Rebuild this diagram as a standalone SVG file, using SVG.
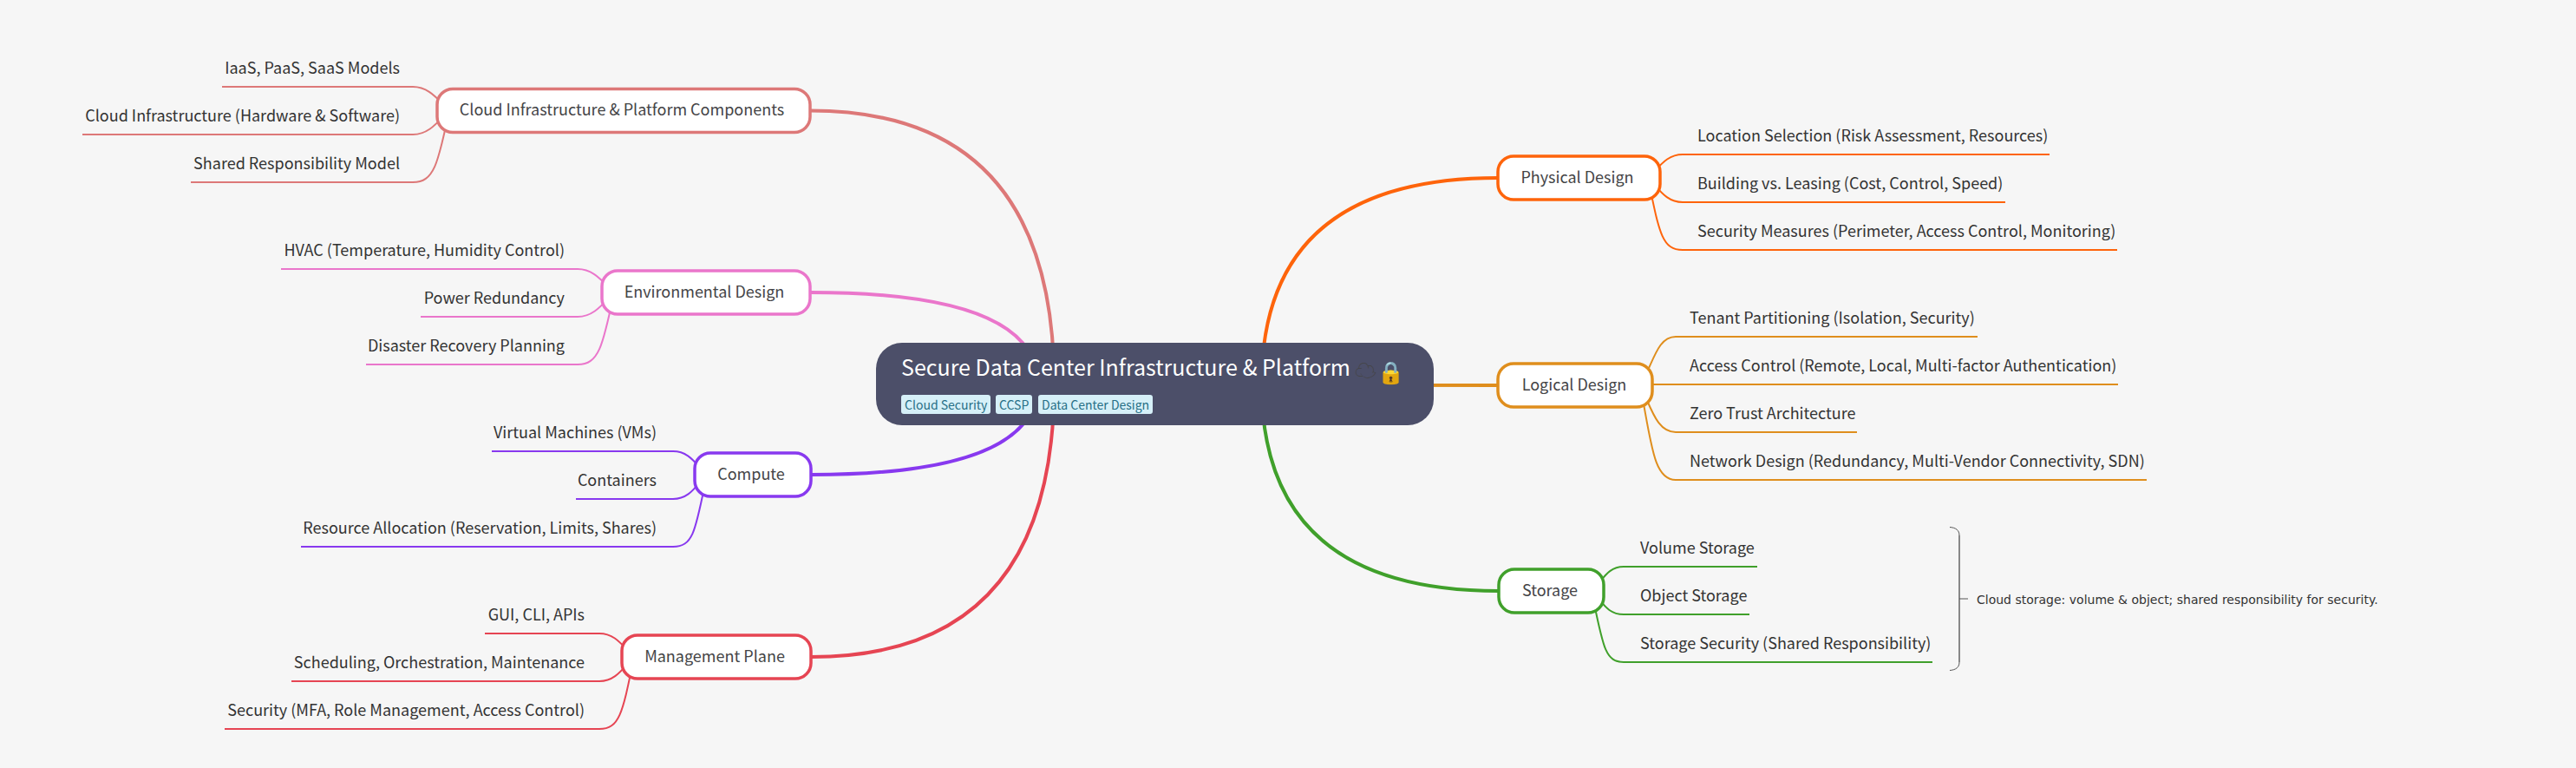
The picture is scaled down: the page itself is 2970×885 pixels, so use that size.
<svg xmlns="http://www.w3.org/2000/svg" width="2970" height="885" viewBox="0 0 2970 885">
<style>
text{font-family:"Noto Sans CJK SC","Noto Sans",sans-serif;fill:#333;font-size:18px}
.e{text-anchor:end}.m{text-anchor:middle;fill:#444446}
.n{fill:#fff;stroke-width:3.500}
.l{fill:none;stroke-width:2}.b{fill:none;stroke-width:4}
.c1{stroke:#dd7878}.c2{stroke:#ea76cb}.c3{stroke:#8839ef}.c4{stroke:#e64553}.c5{stroke:#fe640b}.c6{stroke:#df8e1d}.c7{stroke:#40a02b}
.tg{fill:#d6f0f8}.tt{fill:#276f86;font-size:14px}
</style>
<rect width="2970" height="885" fill="#f6f6f6"/>
<g id="connectors">
<path class="b c1" d="M1215.4 442.5Q1215.4 127.5 934 127.5"/>
<path class="b c2" d="M1196.4 442.5Q1196.4 337 934 337"/>
<path class="b c3" d="M1196.4 442.5Q1196.4 547 935 547"/>
<path class="b c4" d="M1215.4 442.5Q1215.4 757 935 757"/>
<path class="b c5" d="M1454.6 442.5Q1454.6 205 1727 205"/>
<path class="b c6" d="M1476 442.5Q1476 444 1727 444"/>
<path class="b c7" d="M1454.6 442.5Q1454.6 681 1728 681"/>
<path class="l c1" d="M518 127C505 115 495 100 476 100H256"/>
<path class="l c1" d="M518 127C505 140 495 155 476 155H95"/>
<path class="l c1" d="M518 127C505 190 500 210 476 210H220"/>
<path class="l c2" d="M708 337C695 325 685 310 666 310H324"/>
<path class="l c2" d="M708 337C695 350 685 365 666 365H485"/>
<path class="l c2" d="M708 337C695 400 690 420 666 420H422"/>
<path class="l c3" d="M815 547C802 535 795 520 776 520H567"/>
<path class="l c3" d="M815 547C802 560 795 575 776 575H664"/>
<path class="l c3" d="M815 547C802 610 800 630 776 630H347"/>
<path class="l c4" d="M731 757C718 745 710 730 691 730H559"/>
<path class="l c4" d="M731 757C718 770 710 785 691 785H336"/>
<path class="l c4" d="M731 757C718 820 715 840 691 840H259"/>
<path class="l c5" d="M1900 205C1913 193 1921 178 1940 178H2363"/>
<path class="l c5" d="M1900 205C1913 218 1921 233 1940 233H2312"/>
<path class="l c5" d="M1900 205C1913 268 1916 288 1940 288H2441"/>
<path class="l c6" d="M1891 444C1906 420 1910 388 1932 388H2280"/>
<path class="l c6" d="M1891 443H2442"/>
<path class="l c6" d="M1891 444C1904 470 1910 498 1932 498H2141"/>
<path class="l c6" d="M1891 444C1904 510 1906 553 1932 553H2475"/>
<path class="l c7" d="M1835 681C1848 669 1853 653 1872 653H2026"/>
<path class="l c7" d="M1835 681C1848 694 1853 708 1872 708H2017"/>
<path class="l c7" d="M1835 681C1848 744 1850 763 1872 763H2228"/>
<path fill="none" stroke="#888" stroke-width="2" d="M2259 617V763"/>
<path fill="none" stroke="#555" stroke-width="1" d="M2248 607.500C2255 608 2259 611 2259 617M2259 763C2259 769 2255 772 2248 772.500M2259 690H2269"/>
</g>
<g id="root"><rect x="1010" y="395" width="643" height="95" rx="30" fill="#4c4f69"/>
<text x="1039" y="433" style="fill:#fff;font-size:25px">Secure Data Center Infrastructure &amp; Platform</text>
<text x="1562" y="436" style="fill:#444446;font-size:25px">☁</text>
<text x="1588" y="438" style="font-size:25px">🔒</text>
<rect class="tg" x="1039" y="455" width="103" height="22" rx="3"/><text class="tt" x="1043" y="472">Cloud Security</text>
<rect class="tg" x="1148" y="455" width="42" height="22" rx="3"/><text class="tt" x="1152" y="472">CCSP</text>
<rect class="tg" x="1197" y="455" width="132" height="22" rx="3"/><text class="tt" x="1201" y="472">Data Center Design</text>
</g>
<g id="n1"><rect class="n c1" x="504" y="102.500" width="430" height="50" rx="18"/><text class="m" x="717" y="133">Cloud Infrastructure &amp; Platform Components</text></g>
<g id="n1a"><text class="e" x="461" y="85">IaaS, PaaS, SaaS Models</text></g>
<g id="n1b"><text class="e" x="461" y="140">Cloud Infrastructure (Hardware &amp; Software)</text></g>
<g id="n1c"><text class="e" x="461" y="195">Shared Responsibility Model</text></g>
<g id="n2"><rect class="n c2" x="694" y="312" width="240" height="50" rx="18"/><text class="m" x="812" y="343">Environmental Design</text></g>
<g id="n2a"><text class="e" x="651" y="295">HVAC (Temperature, Humidity Control)</text></g>
<g id="n2b"><text class="e" x="651" y="350">Power Redundancy</text></g>
<g id="n2c"><text class="e" x="651" y="405">Disaster Recovery Planning</text></g>
<g id="n3"><rect class="n c3" x="801" y="522" width="134" height="50" rx="18"/><text class="m" x="866" y="553">Compute</text></g>
<g id="n3a"><text class="e" x="757" y="505">Virtual Machines (VMs)</text></g>
<g id="n3b"><text class="e" x="757" y="560">Containers</text></g>
<g id="n3c"><text class="e" x="757" y="615">Resource Allocation (Reservation, Limits, Shares)</text></g>
<g id="n4"><rect class="n c4" x="717" y="732" width="218" height="50" rx="18"/><text class="m" x="824" y="763">Management Plane</text></g>
<g id="n4a"><text class="e" x="674" y="715">GUI, CLI, APIs</text></g>
<g id="n4b"><text class="e" x="674" y="770">Scheduling, Orchestration, Maintenance</text></g>
<g id="n4c"><text class="e" x="674" y="825">Security (MFA, Role Management, Access Control)</text></g>
<g id="n5"><rect class="n c5" x="1727" y="180" width="187" height="50" rx="18"/><text class="m" x="1818.500" y="211">Physical Design</text></g>
<g id="n5a"><text x="1957" y="163">Location Selection (Risk Assessment, Resources)</text></g>
<g id="n5b"><text x="1957" y="218">Building vs. Leasing (Cost, Control, Speed)</text></g>
<g id="n5c"><text x="1957" y="273">Security Measures (Perimeter, Access Control, Monitoring)</text></g>
<g id="n6"><rect class="n c6" x="1727" y="419" width="178" height="50" rx="18"/><text class="m" x="1815" y="450">Logical Design</text></g>
<g id="n6a"><text x="1948" y="373">Tenant Partitioning (Isolation, Security)</text></g>
<g id="n6b"><text x="1948" y="428">Access Control (Remote, Local, Multi-factor Authentication)</text></g>
<g id="n6c"><text x="1948" y="483">Zero Trust Architecture</text></g>
<g id="n6d"><text x="1948" y="538">Network Design (Redundancy, Multi-Vendor Connectivity, SDN)</text></g>
<g id="n7"><rect class="n c7" x="1728" y="656" width="121" height="50" rx="18"/><text class="m" x="1787" y="687">Storage</text></g>
<g id="n7a"><text x="1891" y="638">Volume Storage</text></g>
<g id="n7b"><text x="1891" y="693">Object Storage</text></g>
<g id="n7c"><text x="1891" y="748">Storage Security (Shared Responsibility)</text></g>
<g id="summary"><text x="2279" y="696" style="font-size:14px;font-family:'DejaVu Sans',sans-serif">Cloud storage: volume &amp; object; shared responsibility for security.</text></g>
</svg>
